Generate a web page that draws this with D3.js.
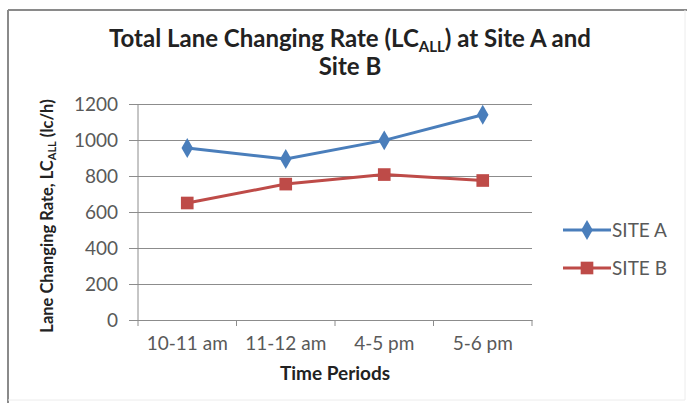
<!DOCTYPE html>
<html>
<head>
<meta charset="utf-8">
<script src="https://cdn.jsdelivr.net/npm/d3@7"></script>
<style>
  body { margin: 0; background: #fff; }
  text { font-family: Lato, "Open Sans", sans-serif; }
</style>
</head>
<body>
<svg id="chart" width="687" height="403"></svg>
<script>
const periods = ["10-11 am", "11-12 am", "4-5 pm", "5-6 pm"];
const siteA = [955, 895, 998, 1140];
const siteB = [650, 755, 808, 775];
const yTicks = [0, 200, 400, 600, 800, 1000, 1200];

const series = [
  { name: "SITE A", values: siteA, color: "#4a7ebb", marker: "diamond" },
  { name: "SITE B", values: siteB, color: "#be4b48", marker: "square" },
];

const svg = d3.select("#chart");
const margin = { top: 104, right: 155, bottom: 83, left: 138 };
const width = +svg.attr("width");
const height = +svg.attr("height");
const chartWidth = width - margin.left - margin.right;
const chartHeight = height - margin.top - margin.bottom;

// frame around the chart
svg.append("line").attr("x1", 8).attr("x2", 687).attr("y1", 10).attr("y2", 10)
  .attr("stroke", "#8a8a8a").attr("stroke-width", 2);
svg.append("line").attr("x1", 8).attr("x2", 8).attr("y1", 10).attr("y2", 403)
  .attr("stroke", "#8a8a8a").attr("stroke-width", 2);
svg.append("line").attr("x1", 685).attr("x2", 685).attr("y1", 10).attr("y2", 400)
  .attr("stroke", "#ececec").attr("stroke-width", 1);
svg.append("line").attr("x1", 8).attr("x2", 685).attr("y1", 400).attr("y2", 400)
  .attr("stroke", "#ececec").attr("stroke-width", 1);

const g = svg.append("g")
  .attr("transform", `translate(${margin.left},${margin.top})`);

const x = d3.scaleBand().domain(periods).range([0, chartWidth]);
const y = d3.scaleLinear().domain([0, 1200]).range([chartHeight, 0]);

// gridlines + y axis
const yAxis = g.append("g")
  .call(d3.axisLeft(y).tickValues(yTicks).tickFormat(d3.format("d"))
    .tickSize(-chartWidth).tickPadding(20));
yAxis.select(".domain").remove();
yAxis.selectAll(".tick line")
  .attr("x1", -9)
  .attr("stroke", "#8c8c8c");
yAxis.selectAll(".tick text")
  .attr("fill", "#595959").style("font-size", "19px");

g.append("line").attr("x1", 0).attr("x2", 0).attr("y1", 0).attr("y2", chartHeight)
  .attr("stroke", "#8c8c8c");

// x axis
const xAxis = g.append("g")
  .attr("transform", `translate(0,${chartHeight})`)
  .call(d3.axisBottom(x).tickSize(0).tickPadding(17));
xAxis.select(".domain").attr("stroke", "#8c8c8c");
xAxis.selectAll(".tick text").attr("fill", "#595959").style("font-size", "19px");
g.append("g").selectAll("line")
  .data(periods.concat(["end"]))
  .join("line")
  .attr("x1", (d, i) => i * x.bandwidth())
  .attr("x2", (d, i) => i * x.bandwidth())
  .attr("y1", chartHeight).attr("y2", chartHeight + 6)
  .attr("stroke", "#8c8c8c");

const line = d3.line()
  .x((d, i) => x(periods[i]) + x.bandwidth() / 2)
  .y(d => y(d));

const diamond = d3.symbol().type(d3.symbolDiamond).size(115);
const square = d3.symbol().type(d3.symbolSquare).size(160);

series.forEach(s => {
  g.append("path")
    .datum(s.values)
    .attr("d", line)
    .attr("fill", "none")
    .attr("stroke", s.color)
    .attr("stroke-width", 3);
  g.append("g").selectAll("path")
    .data(s.values)
    .join("path")
    .attr("transform", (d, i) => `translate(${x(periods[i]) + x.bandwidth() / 2},${y(d)})`)
    .attr("d", s.marker === "diamond" ? diamond : square)
    .attr("fill", s.color);
});

// legend
const legend = svg.append("g").attr("transform", "translate(563,230)");
series.forEach((s, i) => {
  const row = legend.append("g").attr("transform", `translate(0,${i * 38})`);
  row.append("line").attr("x1", 0).attr("x2", 48).attr("stroke", s.color).attr("stroke-width", 3);
  row.append("path")
    .attr("transform", "translate(24,0)")
    .attr("d", s.marker === "diamond" ? diamond : square)
    .attr("fill", s.color);
  row.append("text").attr("x", 49).attr("dy", "0.35em")
    .attr("fill", "#595959").style("font-size", "19px").text(s.name);
});

// title
const title = svg.append("text")
  .attr("text-anchor", "middle")
  .attr("fill", "#222")
  .style("font-size", "24px").style("font-weight", "bold");
const l1 = title.append("tspan").attr("x", 350).attr("y", 47);
l1.append("tspan").text("Total Lane Changing Rate (LC");
l1.append("tspan").attr("dy", 5).style("font-size", "15px").text("ALL");
l1.append("tspan").attr("dy", -5).text(") at Site A and");
title.append("tspan").attr("x", 350).attr("y", 75).text("Site B");

// axis titles
svg.append("text")
  .attr("x", margin.left + chartWidth / 2).attr("y", 380)
  .attr("text-anchor", "middle").attr("fill", "#222")
  .style("font-size", "19px").style("font-weight", "bold")
  .text("Time Periods");

const yTitle = svg.append("text")
  .attr("transform", "translate(53,216) rotate(-90)")
  .attr("text-anchor", "middle").attr("fill", "#222")
  .style("font-size", "16.5px").style("font-weight", "bold");
yTitle.append("tspan").text("Lane Changing Rate, LC");
yTitle.append("tspan").attr("dy", 3).style("font-size", "11px").text("ALL");
yTitle.append("tspan").attr("dy", -3).text(" (lc/h)");
</script>
</body>
</html>
